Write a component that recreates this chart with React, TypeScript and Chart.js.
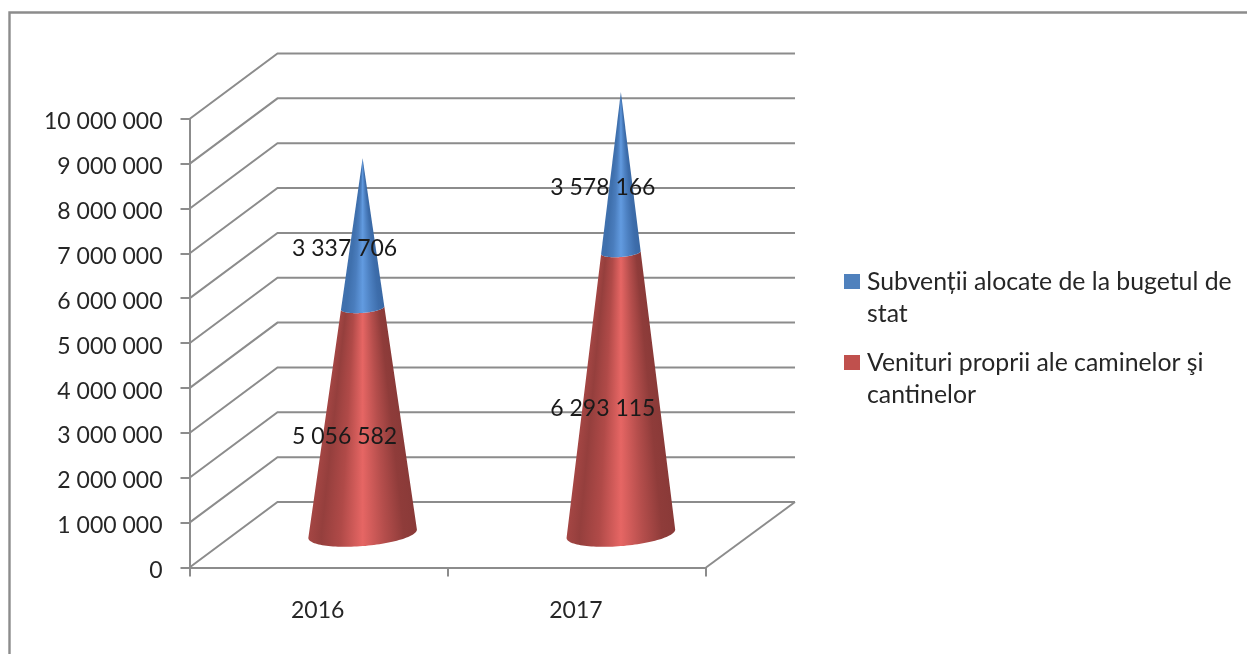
import React, { useEffect, useRef } from "react";
import { Chart, registerables } from "chart.js";

Chart.register(...registerables);

const categories = ["2016", "2017"];
const venituriValues = [5056582, 6293115];
const subventiiValues = [3337706, 3578166];
const venituriLabel = ["Venituri proprii ale caminelor şi", "cantinelor"];
const subventiiLabel = ["Subvenții alocate de la bugetul de", "stat"];

const FONT = "Lato, sans-serif";
const GRID = "#8c8c8c";
const TEXT = "#262626";
const DEPTH_X = 88;
const DEPTH_Y = -65.5;
const STOP_POS = [0, 0.12, 0.3, 0.5, 0.7, 0.88, 1];
const RED = { stops: ["#a54644", "#953f3d", "#b04a48", "#e66664", "#b54e4c", "#8f3c3a", "#8a3a38"], flat: "#c0504d" };
const BLUE = { stops: ["#3f70ad", "#3f70ad", "#4a7dbd", "#629be0", "#4d81c2", "#3d6dab", "#3a69a5"], flat: "#4f81bd" };

const fmt = (v: number) => String(v).replace(/\B(?=(\d{3})+$)/g, " ");

const wallsPlugin = {
  id: "walls",
  beforeDraw(chart: any) {
    const { ctx } = chart;
    ctx.save();
    ctx.strokeStyle = GRID;
    ctx.lineWidth = 2.4;
    ctx.beginPath();
    ctx.moveTo(9.5, 660);
    ctx.lineTo(9.5, 12.5);
    ctx.lineTo(1250, 12.5);
    ctx.stroke();
    ctx.restore();
  },
  beforeDatasetsDraw(chart: any) {
    const { ctx, scales, chartArea } = chart;
    ctx.save();
    ctx.strokeStyle = GRID;
    ctx.lineWidth = 2;
    for (const tick of scales.y.ticks) {
      const y = scales.y.getPixelForValue(tick.value);
      ctx.beginPath();
      ctx.moveTo(chartArea.left, y);
      ctx.lineTo(chartArea.left + DEPTH_X, y + DEPTH_Y);
      ctx.lineTo(chartArea.right + DEPTH_X + 1, y + DEPTH_Y);
      ctx.stroke();
    }
    ctx.beginPath();
    ctx.moveTo(chartArea.right, chartArea.bottom);
    ctx.lineTo(chartArea.right + DEPTH_X + 1, chartArea.bottom + DEPTH_Y);
    ctx.stroke();
    ctx.restore();
  },
};

const conePlugin = {
  id: "cones",
  afterDatasetsDraw(chart: any) {
    const { ctx, scales, data } = chart;
    const last = data.datasets.length - 1;
    const floorY = scales.y.getPixelForValue(0) + DEPTH_Y / 2;
    data.datasets.forEach((ds: any, di: number) => {
      const meta = chart.getDatasetMeta(di);
      meta.data.forEach((bar: any, j: number) => {
        const apexBar = chart.getDatasetMeta(last).data[j];
        const cx = bar.x + DEPTH_X / 2;
        const apexY = apexBar.y + DEPTH_Y / 2;
        const H = floorY - apexY;
        const W = bar.width / 2;
        const Dx = DEPTH_X * 0.2;
        const Dy = DEPTH_Y * 0.2;
        const R = Math.sqrt(W * W - Dx * Dx);
        const t0 = Math.atan2(Dx, R);
        const yLow = bar.base + DEPTH_Y / 2;
        const yHigh = bar.y + DEPTH_Y / 2;
        const fLow = (yLow - apexY) / H;
        const fHigh = (yHigh - apexY) / H;
        const pt = (t: number, f: number, lvl: number) => [
          cx + f * (R * Math.cos(t) + Dx * Math.sin(t)),
          lvl + f * Dy * Math.sin(t),
        ];
        const N = 60;
        ctx.save();
        ctx.beginPath();
        for (let k = 0; k <= N; k++) {
          const p = pt(t0 - (Math.PI * k) / N, fLow, yLow);
          if (k === 0) ctx.moveTo(p[0], p[1]);
          else ctx.lineTo(p[0], p[1]);
        }
        for (let k = N; k >= 0; k--) {
          const p = pt(t0 - (Math.PI * k) / N, fHigh, yHigh);
          ctx.lineTo(p[0], p[1]);
        }
        ctx.closePath();
        ctx.clip();
        const rowTop = Math.floor(yHigh) - 2;
        const rowBottom = Math.ceil(yLow + Math.abs(Dy)) + 2;
        for (let y = rowTop; y < rowBottom; y++) {
          const f = Math.max(0.002, Math.min(1, (y + 0.5 - apexY) / H));
          const w = W * f;
          const x0 = cx - w;
          const g = ctx.createLinearGradient(x0, 0, cx + w, 0);
          ds.cone.stops.forEach((c: string, i: number) => g.addColorStop(STOP_POS[i], c));
          ctx.fillStyle = g;
          ctx.fillRect(x0 - 3, y, 2 * w + 6, 1);
        }
        ctx.restore();
      });
    });
    ctx.save();
    ctx.font = `23px ${FONT}`;
    ctx.fillStyle = "#1a1a1a";
    ctx.textAlign = "center";
    ctx.textBaseline = "middle";
    data.datasets.forEach((ds: any, di: number) => {
      chart.getDatasetMeta(di).data.forEach((bar: any, j: number) => {
        ctx.fillText(fmt(ds.data[j]), bar.x + 26, (bar.y + bar.base) / 2 - 17);
      });
    });
    ctx.restore();
  },
};

const legendPlugin = {
  id: "sideLegend",
  afterDraw(chart: any) {
    const { ctx, data } = chart;
    const tops = [274, 355];
    const order = [...data.datasets].reverse();
    ctx.save();
    ctx.font = `24.8px ${FONT}`;
    ctx.textAlign = "left";
    ctx.textBaseline = "middle";
    order.forEach((ds: any, i: number) => {
      ctx.fillStyle = ds.cone.flat;
      ctx.fillRect(844, tops[i], 16, 15);
      ctx.fillStyle = TEXT;
      ds.legendLines.forEach((line: string, l: number) => {
        ctx.fillText(line, 867, tops[i] + 8 + l * 32);
      });
    });
    ctx.restore();
  },
};

export default function App() {
  const ref = useRef<HTMLCanvasElement>(null);
  useEffect(() => {
    const chart = new Chart(ref.current as HTMLCanvasElement, {
      type: "bar",
      data: {
        labels: categories,
        datasets: [
          {
            label: venituriLabel.join(" "),
            data: venituriValues,
            backgroundColor: "rgba(0,0,0,0)",
            cone: RED,
            legendLines: venituriLabel,
          } as any,
          {
            label: subventiiLabel.join(" "),
            data: subventiiValues,
            backgroundColor: "rgba(0,0,0,0)",
            cone: BLUE,
            legendLines: subventiiLabel,
          } as any,
        ],
      },
      options: {
        responsive: false,
        animation: false,
        events: [],
        layout: { padding: { left: 0, top: 119, right: 541, bottom: 0 } },
        datasets: { bar: { categoryPercentage: 1, barPercentage: 109 / 258.5 } },
        plugins: { legend: { display: false }, tooltip: { enabled: false }, title: { display: false } },
        scales: {
          x: {
            stacked: true,
            afterFit: (s: any) => {
              s.height = 654 - 567.5;
            },
            grid: {
              drawOnChartArea: false,
              color: GRID,
              lineWidth: 2,
              tickLength: 9,
            },
            border: { color: GRID, width: 2 },
            ticks: { color: TEXT, font: { family: FONT, size: 23 }, padding: 20, maxRotation: 0, labelOffset: -1 },
          },
          y: {
            stacked: true,
            min: 0,
            max: 10000000,
            afterFit: (s: any) => {
              s.width = 189.5;
            },
            grid: {
              drawOnChartArea: false,
              color: GRID,
              lineWidth: 2,
              tickLength: 9,
            },
            border: { color: GRID, width: 2 },
            ticks: {
              stepSize: 1000000,
              color: TEXT,
              font: { family: FONT, size: 23 },
              padding: 18,
              labelOffset: 3,
              callback: (v: any) => fmt(Number(v)),
            },
          },
        },
      },
      plugins: [wallsPlugin, conePlugin, legendPlugin],
    } as any);
    return () => chart.destroy();
  }, []);
  return (
    <canvas
      ref={ref}
      width={1247}
      height={654}
      style={{ position: "absolute", left: 0, top: 0, width: 1247, height: 654, filter: "blur(0.5px)" }}
    />
  );
}
